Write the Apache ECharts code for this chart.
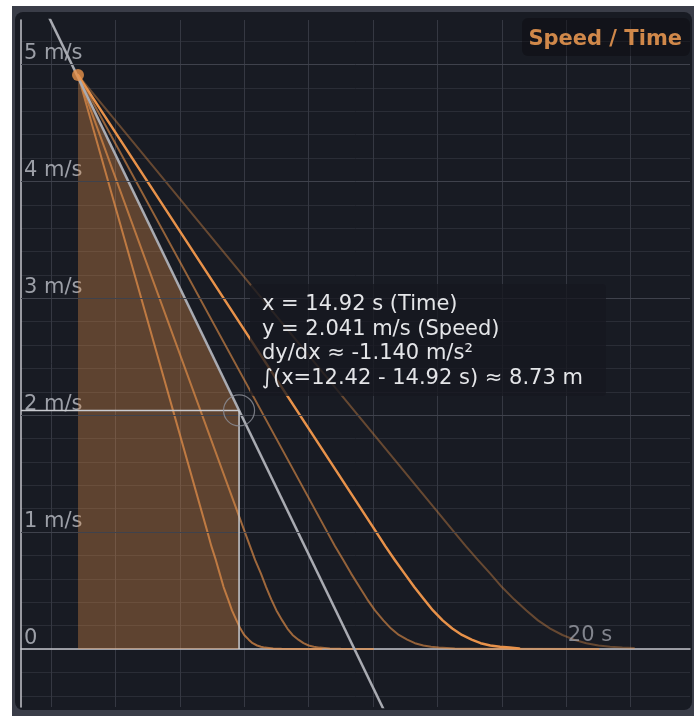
<!DOCTYPE html>
<html><head><meta charset="utf-8">
<script src="https://cdn.jsdelivr.net/npm/echarts@6/dist/echarts.min.js"></script>
<style>html,body{margin:0;padding:0;background:#fff;}#c{width:694px;height:716px;}</style>
</head><body><div id="c"></div>
<script>
// ---- data ----
const xRange = [11.535, 21.92];          // visible time window (s)
const yRange = [-0.496, 5.381];          // visible speed window (m/s)
const yMajorLines = [1, 2, 3, 4, 5];     // brighter horizontal gridlines
const xTickLabels = [20];                // labelled time ticks (s)
const speedLine = [[11.8, 5.598], [17.3, -0.672]];   // main Speed/Time function (grey)
const integralArea = [[12.42, 4.91], [14.92, 2.041]];
const anchorPoint = [12.42, 4.91];
const cursorPoint = [14.92, 2.041];
const curveA = [[12.42,4.91],[14.43,1.00],[14.49,0.88],[14.56,0.76],[14.62,0.645],[14.68,0.53],[14.75,0.425],[14.81,0.33],[14.88,0.245],[14.94,0.175],[15.00,0.12],[15.07,0.08],[15.13,0.05],[15.20,0.03],[15.26,0.02],[15.32,0.012],[15.45,0.005],[15.58,0.002],[16.2,0.0]];
const curveB = [[12.42,4.91],[15.01,1.00],[15.09,0.88],[15.17,0.76],[15.26,0.645],[15.34,0.53],[15.42,0.425],[15.50,0.33],[15.59,0.245],[15.67,0.175],[15.75,0.12],[15.84,0.08],[15.92,0.05],[16.00,0.03],[16.08,0.02],[16.17,0.012],[16.33,0.005],[16.50,0.002],[17.0,0.0]];
const curveC = [[12.42,4.91],[16.29,1.00],[16.41,0.88],[16.54,0.76],[16.66,0.645],[16.79,0.53],[16.91,0.425],[17.03,0.33],[17.16,0.245],[17.28,0.175],[17.40,0.12],[17.53,0.08],[17.65,0.05],[17.78,0.03],[17.90,0.02],[18.02,0.012],[18.27,0.005],[18.52,0.002],[20.5,0.0]];
const curveD = [[12.42,4.91],[17.05,1.00],[17.19,0.88],[17.34,0.76],[17.49,0.645],[17.64,0.53],[17.79,0.425],[17.93,0.33],[18.08,0.245],[18.23,0.175],[18.38,0.12],[18.53,0.08],[18.67,0.05],[18.82,0.03],[18.97,0.02],[19.12,0.012],[19.27,0.005]];
const curveE = [[12.42,4.91],[18.26,1.00],[18.44,0.88],[18.63,0.76],[18.82,0.645],[19.00,0.53],[19.19,0.425],[19.38,0.33],[19.56,0.245],[19.75,0.175],[19.94,0.12],[20.12,0.08],[20.31,0.05],[20.50,0.03],[20.68,0.02],[20.87,0.012],[21.05,0.008]];
const tooltipLines = [
  'x = 14.92 s (Time)',
  'y = 2.041 m/s (Speed)',
  'dy/dx \u2248 -1.140 m/s\u00b2',
  '\u222b(x=12.42 - 14.92 s) \u2248 8.73 m'
];
const titleText = 'Speed / Time';

// ---- chart ----
const ORANGE = '#e8924a';
const FONT = 'DejaVu Sans';
const chart = echarts.init(document.getElementById('c'), null, {renderer: 'canvas'});

function orange(data, alpha, width) {
  return {
    type: 'line', data: data, showSymbol: false, smooth: false,
    lineStyle: {color: ORANGE, opacity: alpha, width: width, join: 'round', cap: 'round'}, z: 3, silent: true
  };
}

const option = {
  backgroundColor: '#ffffff',
  animation: false,
  grid: {left: 21, right: 4, top: 20, bottom: 9, containLabel: false},
  xAxis: {
    type: 'value', min: xRange[0], max: xRange[1], minInterval: 1, maxInterval: 1,
    axisLine: {onZero: true, lineStyle: {color: '#c3c5cb', width: 1.5}},
    axisTick: {show: false},
    axisLabel: {show: false},
    splitLine: {show: true, showMinLine: false, showMaxLine: false, lineStyle: {color: '#353842', width: 1}}
  },
  yAxis: {
    type: 'value', min: yRange[0], max: yRange[1], minInterval: 0.2, maxInterval: 0.2,
    axisLine: {show: true, onZero: false, lineStyle: {color: '#c3c5cb', width: 1.5}},
    axisTick: {show: false},
    axisLabel: {
      inside: true, margin: 3, align: 'left', verticalAlign: 'bottom',
      color: '#9c9fa7', fontSize: 21, fontFamily: FONT,
      showMinLabel: false, showMaxLabel: false,
      formatter: v => {
        const r = Math.round(v);
        if (Math.abs(v - r) > 1e-6) return '';
        return r === 0 ? '0' : r + ' m/s';
      }
    },
    splitLine: {show: true, showMinLine: false, showMaxLine: false, lineStyle: {color: '#2a2d36', width: 1}}
  },
  graphic: [
    {type: 'rect', z: -100, silent: true, shape: {x: 12, y: 6, width: 700, height: 720}, style: {fill: '#3a3d48'}},
    {type: 'rect', z: -99, silent: true, shape: {x: 15, y: 12, width: 677, height: 698, r: 8}, style: {fill: '#181b23'}},
    {type: 'rect', z: 100, silent: true, shape: {x: 522, y: 18, width: 168, height: 38, r: 6}, style: {fill: 'rgba(10,12,16,0.45)'}},
    {type: 'text', z: 101, silent: true, x: 682, y: 40, style: {text: titleText, fill: '#d0884a', font: 'bold 21px "DejaVu Sans"', align: 'right', verticalAlign: 'middle'}},
    {type: 'rect', z: 100, silent: true, shape: {x: 250, y: 284, width: 356, height: 112, r: 4}, style: {fill: 'rgba(22,24,31,0.76)'}},
    ...tooltipLines.map((t, i) => ({
      type: 'text', z: 101, silent: true, x: 262, y: 305 + i * 24.4,
      style: {text: t, fill: '#e4e5e8', font: '21px "DejaVu Sans"', align: 'left', verticalAlign: 'middle'}
    }))
  ],
  series: [
    {
      type: 'line', data: [], silent: true,
      markLine: {silent: true, symbol: 'none', label: {show: false}, animation: false,
        lineStyle: {color: '#3f424c', width: 1, type: 'solid'},
        data: yMajorLines.map(v => ({yAxis: v}))}
    },
    {
      type: 'line', data: integralArea, showSymbol: false, silent: true, z: 2,
      lineStyle: {width: 0}, areaStyle: {color: ORANGE, opacity: 0.34}
    },
    orange(curveA, 0.7, 2),
    orange(curveB, 0.65, 2),
    orange(curveC, 0.6, 2),
    orange(curveD, 1.0, 2.5),
    orange(curveE, 0.38, 2),
    {
      type: 'line', data: speedLine, showSymbol: false, silent: true, z: 4,
      lineStyle: {color: '#a9abb2', width: 2.5}
    },
    {
      type: 'line', data: [[cursorPoint[0], 0], cursorPoint], showSymbol: false, silent: true, z: 5,
      lineStyle: {color: '#c9cbd0', width: 1.5}
    },
    {
      type: 'line', data: [[xRange[0], cursorPoint[1]], cursorPoint], showSymbol: false, silent: true, z: 5,
      lineStyle: {color: '#c9cbd0', width: 1.5}
    },
    {
      type: 'scatter', data: [cursorPoint], symbolSize: 31, silent: true, z: 6,
      itemStyle: {color: 'rgba(0,0,0,0)', borderColor: '#8d9098', borderWidth: 1.2}
    },
    {
      type: 'scatter', data: [anchorPoint], symbolSize: 12, silent: true, z: 6,
      itemStyle: {color: ORANGE}
    },
    {
      type: 'scatter', data: xTickLabels.map(v => [v, 0]), symbolSize: 1, silent: true, z: 7,
      itemStyle: {color: 'rgba(0,0,0,0)'},
      label: {show: true, position: [2, -2], align: 'left', verticalAlign: 'bottom',
        formatter: p => p.value[0] + ' s', color: '#9c9fa7', fontSize: 21, fontFamily: FONT}
    }
  ]
};
chart.setOption(option);
</script></body></html>
